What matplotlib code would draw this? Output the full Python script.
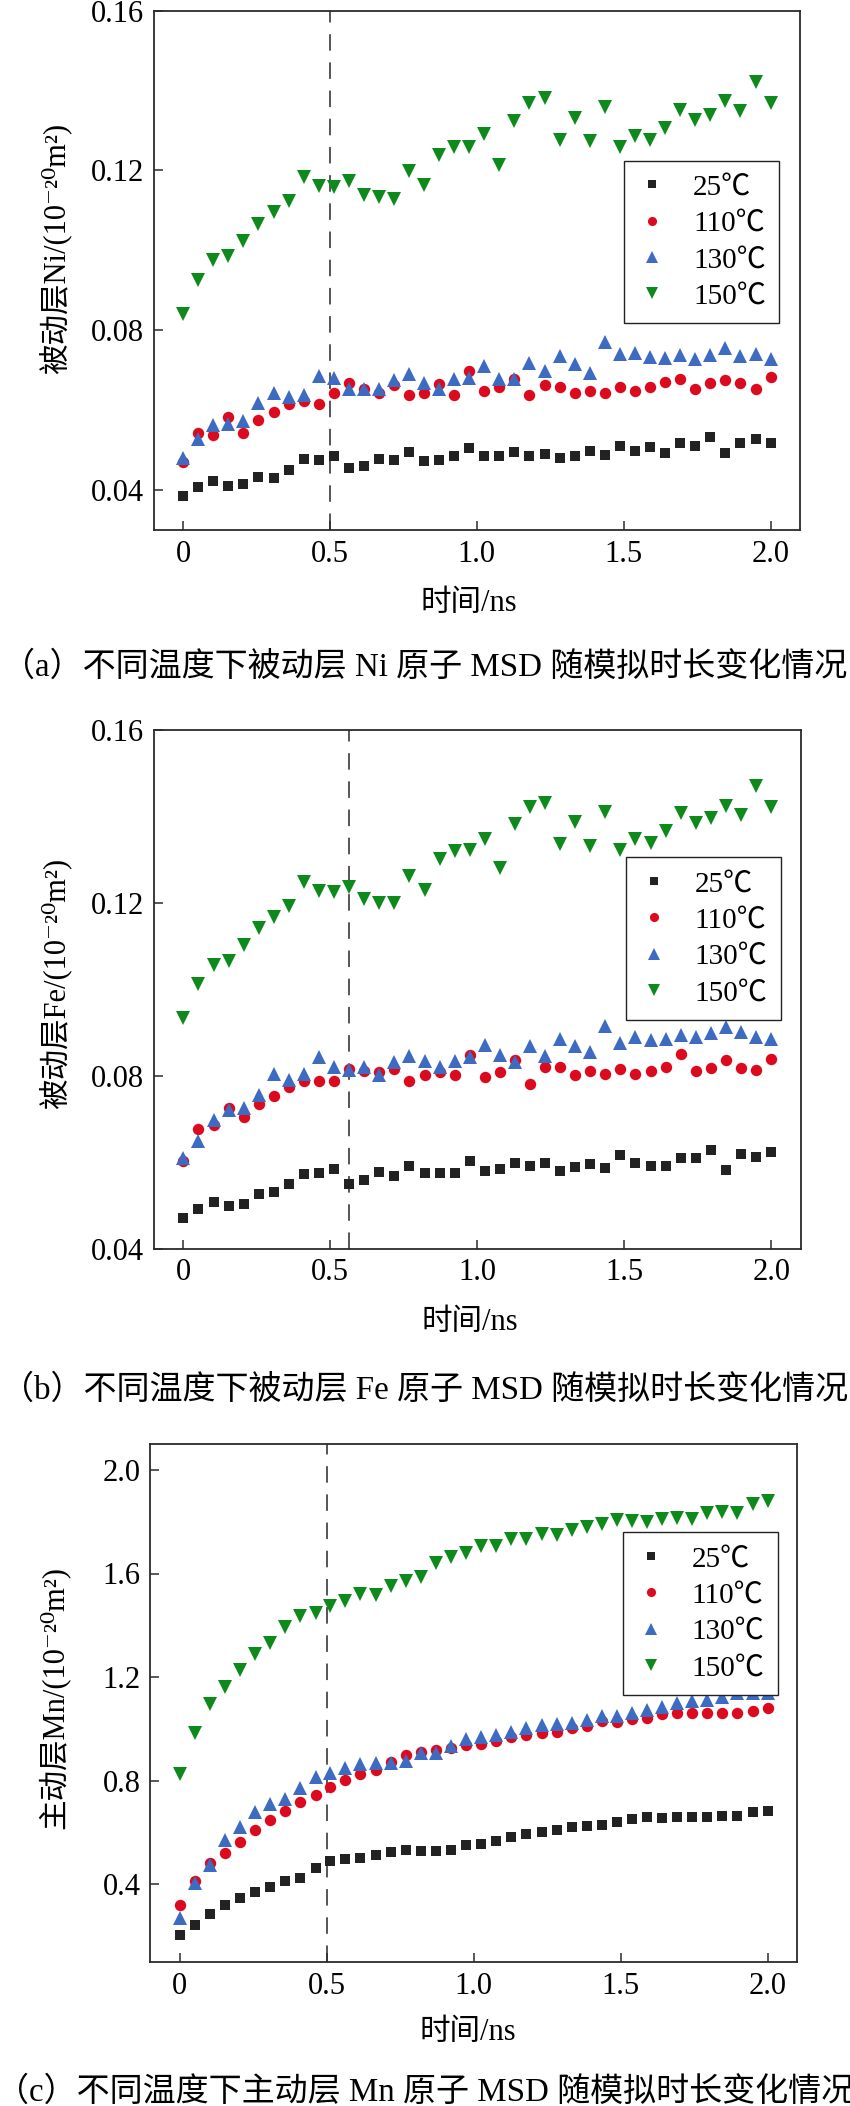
import matplotlib
matplotlib.use('Agg')
import matplotlib.pyplot as plt

plt.rcParams['font.family'] = ['Liberation Serif', 'DejaVu Serif', 'Noto Sans CJK SC']

# time axis (ns), 40 frames
times = [0.000, 0.051, 0.103, 0.154, 0.205, 0.256, 0.308, 0.359, 0.410, 0.462,
         0.513, 0.564, 0.615, 0.667, 0.718, 0.769, 0.821, 0.872, 0.923, 0.974,
         1.026, 1.077, 1.128, 1.179, 1.231, 1.282, 1.333, 1.385, 1.436, 1.487,
         1.538, 1.590, 1.641, 1.692, 1.744, 1.795, 1.846, 1.897, 1.949, 2.000]

temps = ['25℃', '110℃', '130℃', '150℃']

# (a) passive layer Ni
ni_25 = [0.0386, 0.0408, 0.0423, 0.0411, 0.0415, 0.0433, 0.0430, 0.0450, 0.0477, 0.0475,
         0.0486, 0.0454, 0.0461, 0.0477, 0.0476, 0.0496, 0.0472, 0.0476, 0.0486, 0.0505,
         0.0486, 0.0486, 0.0496, 0.0486, 0.0490, 0.0480, 0.0486, 0.0497, 0.0488, 0.0511,
         0.0497, 0.0509, 0.0494, 0.0517, 0.0511, 0.0532, 0.0492, 0.0519, 0.0529, 0.0517]
ni_110 = [0.0470, 0.0544, 0.0537, 0.0582, 0.0542, 0.0576, 0.0596, 0.0616, 0.0624, 0.0616,
          0.0643, 0.0667, 0.0654, 0.0643, 0.0662, 0.0639, 0.0643, 0.0666, 0.0639, 0.0698,
          0.0648, 0.0659, 0.0679, 0.0637, 0.0662, 0.0657, 0.0644, 0.0648, 0.0644, 0.0658,
          0.0648, 0.0659, 0.0671, 0.0679, 0.0652, 0.0667, 0.0676, 0.0667, 0.0654, 0.0682]
ni_130 = [0.0480, 0.0527, 0.0563, 0.0566, 0.0573, 0.0619, 0.0642, 0.0633, 0.0637, 0.0685,
          0.0680, 0.0654, 0.0654, 0.0652, 0.0675, 0.0690, 0.0668, 0.0652, 0.0679, 0.0681,
          0.0711, 0.0677, 0.0677, 0.0719, 0.0698, 0.0735, 0.0715, 0.0692, 0.0770, 0.0740,
          0.0744, 0.0733, 0.0730, 0.0737, 0.0729, 0.0737, 0.0756, 0.0735, 0.0740, 0.0727]
ni_150 = [0.0840, 0.0927, 0.0975, 0.0985, 0.1023, 0.1066, 0.1095, 0.1123, 0.1184, 0.1162,
          0.1159, 0.1173, 0.1139, 0.1133, 0.1129, 0.1198, 0.1164, 0.1239, 0.1260, 0.1260,
          0.1292, 0.1214, 0.1324, 0.1370, 0.1381, 0.1277, 0.1331, 0.1273, 0.1359, 0.1260,
          0.1287, 0.1277, 0.1306, 0.1352, 0.1327, 0.1339, 0.1373, 0.1349, 0.1421, 0.1370]

# (b) passive layer Fe
fe_25 = [0.0471, 0.0491, 0.0507, 0.0498, 0.0503, 0.0525, 0.0530, 0.0549, 0.0572, 0.0574,
         0.0584, 0.0549, 0.0558, 0.0578, 0.0568, 0.0591, 0.0575, 0.0575, 0.0575, 0.0603,
         0.0580, 0.0584, 0.0599, 0.0591, 0.0597, 0.0580, 0.0589, 0.0596, 0.0587, 0.0616,
         0.0597, 0.0591, 0.0591, 0.0609, 0.0609, 0.0628, 0.0582, 0.0618, 0.0611, 0.0623]
fe_110 = [0.0603, 0.0676, 0.0686, 0.0726, 0.0704, 0.0734, 0.0754, 0.0774, 0.0788, 0.0788,
          0.0788, 0.0815, 0.0811, 0.0809, 0.0815, 0.0788, 0.0801, 0.0809, 0.0801, 0.0848,
          0.0798, 0.0809, 0.0836, 0.0781, 0.0819, 0.0819, 0.0801, 0.0811, 0.0805, 0.0815,
          0.0805, 0.0811, 0.0819, 0.0849, 0.0811, 0.0818, 0.0836, 0.0818, 0.0813, 0.0838]
fe_130 = [0.0610, 0.0649, 0.0697, 0.0720, 0.0726, 0.0755, 0.0803, 0.0790, 0.0805, 0.0844,
          0.0819, 0.0813, 0.0821, 0.0801, 0.0832, 0.0846, 0.0835, 0.0821, 0.0834, 0.0844,
          0.0872, 0.0848, 0.0832, 0.0869, 0.0845, 0.0886, 0.0869, 0.0855, 0.0915, 0.0875,
          0.0890, 0.0882, 0.0884, 0.0894, 0.0889, 0.0899, 0.0912, 0.0902, 0.0889, 0.0884]
fe_150 = [0.0933, 0.1012, 0.1056, 0.1066, 0.1102, 0.1141, 0.1168, 0.1193, 0.1249, 0.1228,
          0.1226, 0.1237, 0.1208, 0.1200, 0.1199, 0.1262, 0.1230, 0.1301, 0.1320, 0.1322,
          0.1348, 0.1280, 0.1382, 0.1422, 0.1432, 0.1336, 0.1388, 0.1331, 0.1411, 0.1322,
          0.1347, 0.1338, 0.1366, 0.1407, 0.1384, 0.1396, 0.1424, 0.1403, 0.1470, 0.1422]

# (c) active layer Mn
mn_25 = [0.204, 0.243, 0.285, 0.320, 0.346, 0.369, 0.388, 0.414, 0.426, 0.462,
         0.491, 0.497, 0.500, 0.513, 0.526, 0.532, 0.530, 0.530, 0.532, 0.552,
         0.555, 0.567, 0.582, 0.594, 0.603, 0.610, 0.620, 0.626, 0.629, 0.642,
         0.651, 0.659, 0.655, 0.659, 0.659, 0.661, 0.664, 0.664, 0.678, 0.683]
mn_110 = [0.320, 0.414, 0.481, 0.520, 0.565, 0.610, 0.648, 0.684, 0.719, 0.745,
          0.777, 0.803, 0.826, 0.841, 0.873, 0.899, 0.912, 0.919, 0.925, 0.938,
          0.942, 0.953, 0.970, 0.977, 0.983, 0.989, 1.002, 1.011, 1.032, 1.028,
          1.037, 1.043, 1.056, 1.063, 1.063, 1.063, 1.063, 1.063, 1.070, 1.082]
mn_130 = [0.269, 0.404, 0.475, 0.571, 0.620, 0.680, 0.710, 0.728, 0.773, 0.813,
          0.829, 0.848, 0.865, 0.867, 0.867, 0.877, 0.906, 0.906, 0.934, 0.960,
          0.970, 0.977, 0.989, 1.002, 1.015, 1.019, 1.022, 1.034, 1.050, 1.050,
          1.060, 1.073, 1.086, 1.099, 1.109, 1.112, 1.124, 1.138, 1.138, 1.138]
mn_150 = [0.826, 0.985, 1.095, 1.163, 1.227, 1.288, 1.333, 1.392, 1.436, 1.446,
          1.475, 1.495, 1.521, 1.517, 1.552, 1.571, 1.585, 1.639, 1.665, 1.678,
          1.705, 1.706, 1.732, 1.732, 1.751, 1.749, 1.768, 1.778, 1.790, 1.807,
          1.804, 1.800, 1.809, 1.815, 1.810, 1.832, 1.836, 1.835, 1.868, 1.881]

xticks = [0, 0.5, 1.0, 1.5, 2.0]
xtick_labels = ['0', '0.5', '1.0', '1.5', '2.0']

# marker styles per temperature
styles = [
    dict(marker='s', color='#222222', ms=7.4),
    dict(marker='o', color='#dc0a1e', ms=8.2),
    dict(marker='^', color='#3d6bc2', ms=10.0),
    dict(marker='v', color='#0e8a1c', ms=10.0),
]

W, H = 850, 2106
fig = plt.figure(figsize=(W / 100, H / 100), dpi=100)


def px_axes(left, top, right, bottom):
    return fig.add_axes([left / W, 1 - bottom / H, (right - left) / W, (bottom - top) / H])


panels = [
    dict(box=(153.7, 10.7, 800.0, 530.0), data=[ni_25, ni_110, ni_130, ni_150],
         ylim=(0.03, 0.16), yticks=[0.04, 0.08, 0.12, 0.16], yfmt='{:.2f}',
         ylabel='被动层Ni/(10⁻²⁰m²)', ylab_pos=(-0.1535, 0.543), xlab_pos=(0.488, -0.1406),
         vline=0.5, leg=(779.3, 160.7),
         caption='（a）不同温度下被动层 Ni 原子 MSD 随模拟时长变化情况', cap_y=667),
    dict(box=(153.9, 730.0, 800.7, 1248.5), data=[fe_25, fe_110, fe_130, fe_150],
         ylim=(0.04, 0.16), yticks=[0.04, 0.08, 0.12, 0.16], yfmt='{:.2f}',
         ylabel='被动层Fe/(10⁻²⁰m²)', ylab_pos=(-0.1537, 0.511), xlab_pos=(0.489, -0.1418),
         vline=0.564, leg=(781.0, 857.3),
         caption='（b）不同温度下被动层 Fe 原子 MSD 随模拟时长变化情况', cap_y=1390),
    dict(box=(150.3, 1444.0, 797.0, 1962.0), data=[mn_25, mn_110, mn_130, mn_150],
         ylim=(0.1, 2.1), yticks=[0.4, 0.8, 1.2, 1.6, 2.0], yfmt='{:.1f}',
         ylabel='主动层Mn/(10⁻²⁰m²)', ylab_pos=(-0.149, 0.51), xlab_pos=(0.491, -0.137),
         vline=0.5, leg=(777.7, 1532.3),
         caption='（c）不同温度下主动层 Mn 原子 MSD 随模拟时长变化情况', cap_y=2092),
]

for p in panels:
    ax = px_axes(*p['box'])
    for vals, st, lab in zip(p['data'], styles, temps):
        ax.plot(times, vals, linestyle='none', marker=st['marker'], ms=st['ms'],
                color=st['color'], mec=st['color'], mew=0, label=lab)
    ax.axvline(p['vline'], color='#555555', lw=1.4, linestyle=(0, (8.5, 6)), zorder=0)

    ax.set_xlim(-0.1, 2.1)
    ax.set_ylim(*p['ylim'])
    ax.set_xticks(xticks)
    ax.set_xticklabels(xtick_labels)
    ax.set_yticks(p['yticks'])
    ax.set_yticklabels([p['yfmt'].format(v) for v in p['yticks']])
    ax.tick_params(direction='in', length=6.5, width=1.1, color='#2b2b2b',
                   labelsize=22, pad=7, top=False, right=False)
    for sp in ax.spines.values():
        sp.set_linewidth(1.3)
        sp.set_color('#2b2b2b')

    ax.set_ylabel(p['ylabel'], fontsize=22, va='center')
    ax.yaxis.set_label_coords(*p['ylab_pos'])
    ax.set_xlabel('时间/ns', fontsize=22, va='center')
    ax.xaxis.set_label_coords(*p['xlab_pos'])

    lx, ly = p['leg']
    ax.legend(loc='upper right', bbox_to_anchor=(lx / W, 1 - ly / H),
              bbox_transform=fig.transFigure, borderaxespad=0,
              prop={'family': ['Liberation Serif', 'Noto Sans CJK SC'], 'size': 21},
              frameon=True, fancybox=False, edgecolor='#222222', framealpha=1,
              markerscale=0.8, handlelength=1.0, handletextpad=0.9,
              labelspacing=0.34, borderpad=0.46)
    ax.get_legend().get_frame().set_linewidth(1.0)

    fig.text(0.5, 1 - p['cap_y'] / H, p['caption'], ha='center', va='center', fontsize=23.8)

fig.savefig('out.png', dpi=100)
